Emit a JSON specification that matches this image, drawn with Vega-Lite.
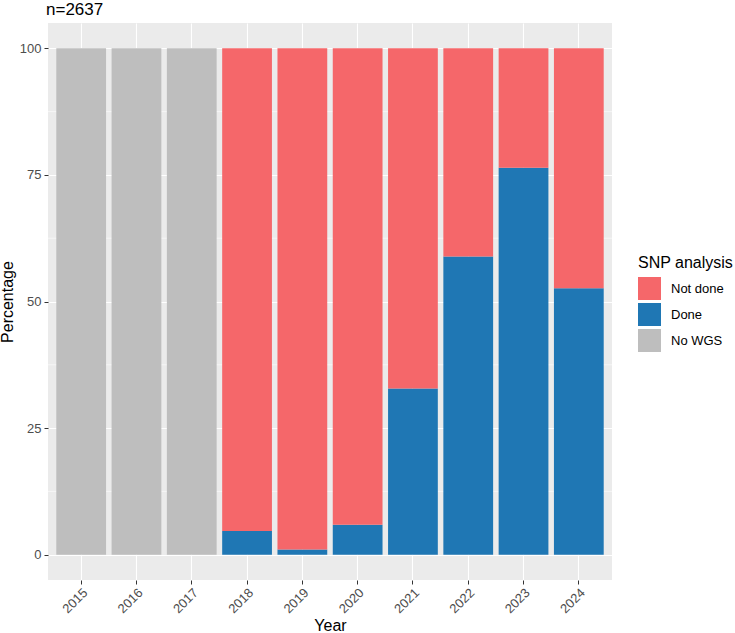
{
  "$schema": "https://vega.github.io/schema/vega-lite/v6.json",
  "width": 564,
  "height": 557,
  "autosize": {"type": "none"},
  "padding": {"left": 48, "top": 23, "right": 123, "bottom": 53},
  "background": "white",
  "title": {
    "text": "n=2637",
    "anchor": "start",
    "frame": "group",
    "font": "Liberation Sans",
    "fontSize": 17,
    "fontWeight": "normal",
    "color": "black",
    "offset": 4,
    "dx": -2
  },
  "config": {
    "view": {"fill": "#EBEBEB", "stroke": null},
    "font": "Liberation Sans",
    "axis": {
      "gridColor": "white",
      "gridWidth": 1.1,
      "domain": false,
      "tickColor": "#333333",
      "tickSize": 4,
      "tickWidth": 1,
      "labelColor": "#4D4D4D",
      "labelFont": "Liberation Sans",
      "labelFontSize": 13,
      "titleFont": "Liberation Sans",
      "titleFontSize": 16,
      "titleFontWeight": "normal",
      "titleColor": "black"
    }
  },
  "datasets": {
    "minor": [{"pct": 12.5}, {"pct": 37.5}, {"pct": 62.5}, {"pct": 87.5}]
  },
  "data": {
    "values": [
      {"year": "2015", "status": "No WGS", "pct": 100},
      {"year": "2016", "status": "No WGS", "pct": 100},
      {"year": "2017", "status": "No WGS", "pct": 100},
      {"year": "2018", "status": "Done", "pct": 4.7},
      {"year": "2018", "status": "Not done", "pct": 95.3},
      {"year": "2019", "status": "Done", "pct": 1.0},
      {"year": "2019", "status": "Not done", "pct": 99.0},
      {"year": "2020", "status": "Done", "pct": 5.9},
      {"year": "2020", "status": "Not done", "pct": 94.1},
      {"year": "2021", "status": "Done", "pct": 32.8},
      {"year": "2021", "status": "Not done", "pct": 67.2},
      {"year": "2022", "status": "Done", "pct": 58.9},
      {"year": "2022", "status": "Not done", "pct": 41.1},
      {"year": "2023", "status": "Done", "pct": 76.4},
      {"year": "2023", "status": "Not done", "pct": 23.6},
      {"year": "2024", "status": "Done", "pct": 52.6},
      {"year": "2024", "status": "Not done", "pct": 47.4}
    ]
  },
  "layer": [
    {
      "data": {"name": "minor"},
      "mark": {"type": "rule", "color": "white", "strokeWidth": 0.55},
      "encoding": {
        "y": {
          "field": "pct",
          "type": "quantitative",
          "scale": {"domain": [-5, 105], "nice": false, "zero": false},
          "axis": {
            "title": "Percentage",
            "values": [0, 25, 50, 75, 100],
            "grid": true,
            "labelPadding": 3,
            "titlePadding": 4
          }
        }
      }
    },
    {
      "mark": {"type": "bar"},
      "encoding": {
        "x": {
          "field": "year",
          "type": "ordinal",
          "scale": {"paddingInner": 0.1, "paddingOuter": 0.15},
          "axis": {
            "title": "Year",
            "grid": true,
            "labelAngle": -45,
            "labelAlign": "right",
            "labelBaseline": "top",
            "labelPadding": 2,
            "titlePadding": 2
          }
        },
        "y": {
          "field": "pct",
          "type": "quantitative",
          "stack": "zero",
          "scale": {"domain": [-5, 105], "nice": false, "zero": false},
          "axis": {
            "title": "Percentage",
            "values": [0, 25, 50, 75, 100],
            "grid": true,
            "labelPadding": 3,
            "titlePadding": 4
          }
        },
        "color": {
          "field": "status",
          "type": "nominal",
          "scale": {
            "domain": ["Not done", "Done", "No WGS"],
            "range": ["#F5676A", "#1F77B4", "#BEBEBE"]
          },
          "legend": {
            "title": "SNP analysis",
            "orient": "none",
            "legendX": 590,
            "legendY": 232,
            "titleFont": "Liberation Sans",
            "titleFontSize": 16,
            "titleFontWeight": "normal",
            "titleColor": "black",
            "titlePadding": 6,
            "labelFont": "Liberation Sans",
            "labelFontSize": 13,
            "labelColor": "black",
            "labelOffset": 10,
            "symbolType": "square",
            "symbolSize": 529,
            "symbolStrokeWidth": 0,
            "symbolOpacity": 1,
            "rowPadding": 3
          }
        },
        "order": {"field": "status", "sort": "ascending"}
      }
    }
  ]
}
